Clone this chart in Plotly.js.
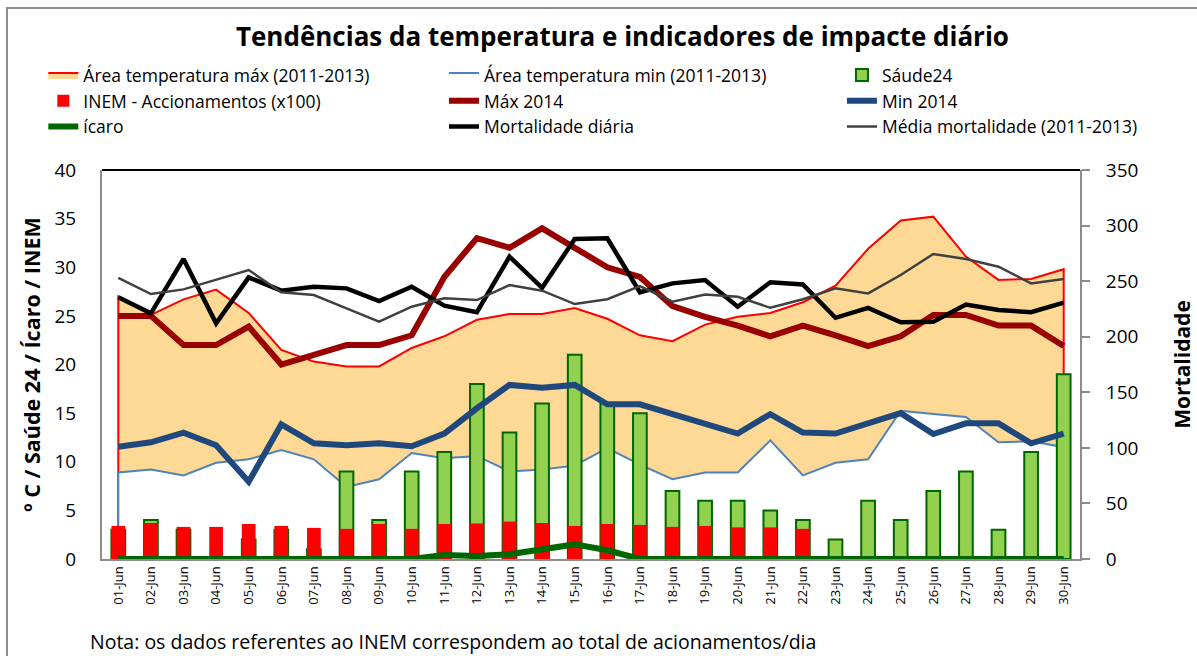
<!DOCTYPE html>
<html>
<head>
<meta charset="utf-8">
<script src="https://cdn.plot.ly/plotly-3.0.1.min.js"></script>
<style>
  html, body { margin: 0; padding: 0; background: #fff; overflow: hidden; }
  #chart { width: 1197px; height: 656px; position: absolute; left: 0; top: 0; }
  #frame { position: absolute; left: 6px; top: 7px; width: 1400px; height: 900px; border: 2px solid #8c8c8c; pointer-events: none; }
</style>
</head>
<body>
<div id="chart"></div>
<div id="frame"></div>
<script>
// ---- data ----
const categories = ['01-Jun','02-Jun','03-Jun','04-Jun','05-Jun','06-Jun','07-Jun','08-Jun','09-Jun','10-Jun',
  '11-Jun','12-Jun','13-Jun','14-Jun','15-Jun','16-Jun','17-Jun','18-Jun','19-Jun','20-Jun',
  '21-Jun','22-Jun','23-Jun','24-Jun','25-Jun','26-Jun','27-Jun','28-Jun','29-Jun','30-Jun'];

const areaMax = [27.0,25.1,26.7,27.7,25.3,21.5,20.3,19.8,19.8,21.7,22.9,24.6,25.2,25.2,25.8,24.7,23.0,22.4,24.1,24.9,25.3,26.4,28.1,31.9,34.8,35.2,31.1,28.7,28.8,29.8];
const areaMin = [8.9,9.2,8.6,9.9,10.25,11.2,10.25,7.4,8.2,10.9,10.35,10.6,9.0,9.2,9.6,11.4,9.7,8.2,8.9,8.9,12.2,8.6,9.9,10.25,15.25,14.9,14.6,12.0,12.1,11.5];
const saude24 = [3,4,3,0,2,3,1,9,4,9,11,18,13,16,21,16,15,7,6,6,5,4,2,6,4,7,9,3,11,19];
const inem = [3.4,3.7,3.3,3.3,3.6,3.4,3.2,3.1,3.6,3.1,3.6,3.65,3.85,3.7,3.4,3.6,3.5,3.3,3.4,3.25,3.25,3.1,0,0,0,0,0,0,0,0];
const max2014 = [25.0,25.0,22.0,22.0,23.9,20.0,21.0,22.0,22.0,23.0,29.0,33.0,32.0,34.0,32.0,30.0,29.0,26.0,24.9,24.0,22.9,24.0,23.0,21.9,22.9,25.1,25.1,24.0,24.0,21.9];
const min2014 = [11.55,12.0,13.0,11.7,7.95,13.85,11.9,11.7,11.9,11.6,12.9,15.5,17.9,17.6,17.9,15.9,15.9,14.9,13.9,12.9,14.9,13.0,12.9,13.95,15.0,12.85,13.95,13.95,11.9,12.9];
const icaro = [0,0,0,0,0,0,0,0,0,0,0.4,0.3,0.5,1.0,1.5,0.9,0,0,0,0,0,0,0,0,0,0,0,0,0,0];
const mortalidade = [235.5,221,270,212,253.4,241.4,245,243.5,232,245,228,222,272,244,288,288.5,240,248,251,227,249,247,217,226,213,213.5,229,224,222,230.6];
const mediaMort = [253,238.4,242.6,251.6,260,240,237.5,225.5,213.5,227,234.5,233,246.5,241.4,229.4,233.7,245.6,231.5,238,236,226,233.7,243.5,239,255.5,274.4,270,263,248,252];
const leftTicks = [0,5,10,15,20,25,30,35,40];
const rightTicks = [0,50,100,150,200,250,300,350];

// area outlines closed down to zero at both ends (Excel-style area border)
const last = categories.length - 1;
const areaX = [categories[0]].concat(categories, [categories[last]]);
const closeArea = arr => [0].concat(arr, [0]);

const FONT = 'Open Sans, sans-serif';

const traces = [
  { name: 'Área temperatura máx (2011-2013)', type: 'scatter', mode: 'lines', x: areaX, y: closeArea(areaMax),
    fill: 'tozeroy', fillcolor: '#FDD995', line: { color: '#FF0000', width: 2 },
    xaxis: 'x', yaxis: 'y', legend: 'legend', legendrank: 1, hoverinfo: 'skip' },
  { name: 'Área temperatura min (2011-2013)', type: 'scatter', mode: 'lines', x: areaX, y: closeArea(areaMin),
    fill: 'tozeroy', fillcolor: '#FFFFFF', line: { color: '#4F81BD', width: 2 },
    xaxis: 'x', yaxis: 'y', legend: 'legend2', legendrank: 1, hoverinfo: 'skip' },
  { name: 'Sáude24', type: 'bar', x: categories, y: saude24, width: 0.42,
    marker: { color: '#92D050', line: { color: '#006600', width: 2 } },
    xaxis: 'x', yaxis: 'y2', legend: 'legend3', legendrank: 1 },
  { name: 'INEM - Accionamentos (x100)', type: 'bar', x: categories, y: inem, width: 0.42,
    marker: { color: '#FF0000', line: { width: 0 } },
    xaxis: 'x', yaxis: 'y2', legend: 'legend', legendrank: 2 },
  { name: 'Máx 2014', type: 'scatter', mode: 'lines', x: categories, y: max2014,
    line: { color: '#990000', width: 6 }, xaxis: 'x', yaxis: 'y3', legend: 'legend2', legendrank: 2 },
  { name: 'Min 2014', type: 'scatter', mode: 'lines', x: categories, y: min2014,
    line: { color: '#1F497D', width: 6 }, xaxis: 'x', yaxis: 'y3', legend: 'legend3', legendrank: 2 },
  { name: 'ícaro', type: 'scatter', mode: 'lines', x: categories, y: icaro,
    line: { color: '#006600', width: 6 }, xaxis: 'x', yaxis: 'y3', legend: 'legend', legendrank: 3 },
  { name: 'Mortalidade diária', type: 'scatter', mode: 'lines', x: categories, y: mortalidade,
    line: { color: '#000000', width: 4.5 }, xaxis: 'x', yaxis: 'y4', legend: 'legend2', legendrank: 3 },
  { name: 'Média mortalidade (2011-2013)', type: 'scatter', mode: 'lines', x: categories, y: mediaMort,
    line: { color: '#404040', width: 2.5 }, xaxis: 'x', yaxis: 'y4', legend: 'legend3', legendrank: 3 }
];

const legendBase = { orientation: 'v', xanchor: 'left', yanchor: 'top', y: 1.29,
  bgcolor: 'rgba(0,0,0,0)', borderwidth: 0, font: { family: FONT, size: 17.5, color: '#000' },
  tracegroupgap: 0 };

const layout = {
  width: 1197, height: 656,
  margin: { l: 102, r: 117, t: 170, b: 97, pad: 0 },
  paper_bgcolor: '#FFFFFF', plot_bgcolor: '#FFFFFF',
  font: { family: FONT, color: '#000' },
  barmode: 'overlay',
  showlegend: true,
  title: { text: '<b>Tendências da temperatura e indicadores de impacte diário</b>',
    x: 0.52, xanchor: 'center', y: 0.944, yanchor: 'middle', yref: 'container',
    font: { family: FONT, size: 26, color: '#000' } },
  xaxis: { type: 'category', categoryorder: 'array', categoryarray: categories,
    range: [-0.5, 29.5], showgrid: false, zeroline: false,
    showline: true, linecolor: '#8c8c8c', linewidth: 2,
    ticks: '', tickangle: -90, tickfont: { family: FONT, size: 13, color: '#000' },
    fixedrange: true },
  yaxis: { range: [0, 40], tickvals: leftTicks, ticktext: leftTicks.map(String),
    showgrid: false, zeroline: false, showline: true, linecolor: '#8c8c8c', linewidth: 2,
    ticks: 'outside', ticklen: 20, tickcolor: 'rgba(0,0,0,0)',
    tickfont: { family: FONT, size: 19, color: '#000' },
    title: { text: '<b>º C / Saúde 24 / Ícaro / INEM</b>', standoff: 8,
      font: { family: FONT, size: 21.5, color: '#000' } } },
  yaxis2: { overlaying: 'y', range: [0, 40], visible: false },
  yaxis3: { overlaying: 'y', range: [0, 40], visible: false },
  yaxis4: { overlaying: 'y', side: 'right', range: [0, 350], tickvals: rightTicks, ticktext: rightTicks.map(String),
    showgrid: false, zeroline: false, showline: true, linecolor: '#8c8c8c', linewidth: 2,
    ticks: 'outside', ticklen: 8, tickwidth: 2, tickcolor: '#8c8c8c', ticklabelstandoff: 12,
    tickfont: { family: FONT, size: 19, color: '#000' },
    title: { text: '<b>Mortalidade</b>', standoff: 38,
      font: { family: FONT, size: 21, color: '#000' } } },
  legend: Object.assign({}, legendBase, { x: -0.06 }),
  legend2: Object.assign({}, legendBase, { x: 0.3497 }),
  legend3: Object.assign({}, legendBase, { x: 0.7566 }),
  shapes: [
    { type: 'line', xref: 'paper', yref: 'paper', x0: 0, x1: 1, y0: 1, y1: 1,
      line: { color: '#000000', width: 2 } }
  ],
  annotations: [
    { text: 'Nota: os dados referentes ao INEM correspondem ao total de acionamentos/dia',
      xref: 'paper', yref: 'paper', x: -0.0143, y: -0.172, xanchor: 'left', yanchor: 'top',
      showarrow: false, font: { family: FONT, size: 19.5, color: '#000' } }
  ]
};

Plotly.newPlot('chart', traces, layout, { displayModeBar: false, staticPlot: true });
</script>
</body>
</html>
